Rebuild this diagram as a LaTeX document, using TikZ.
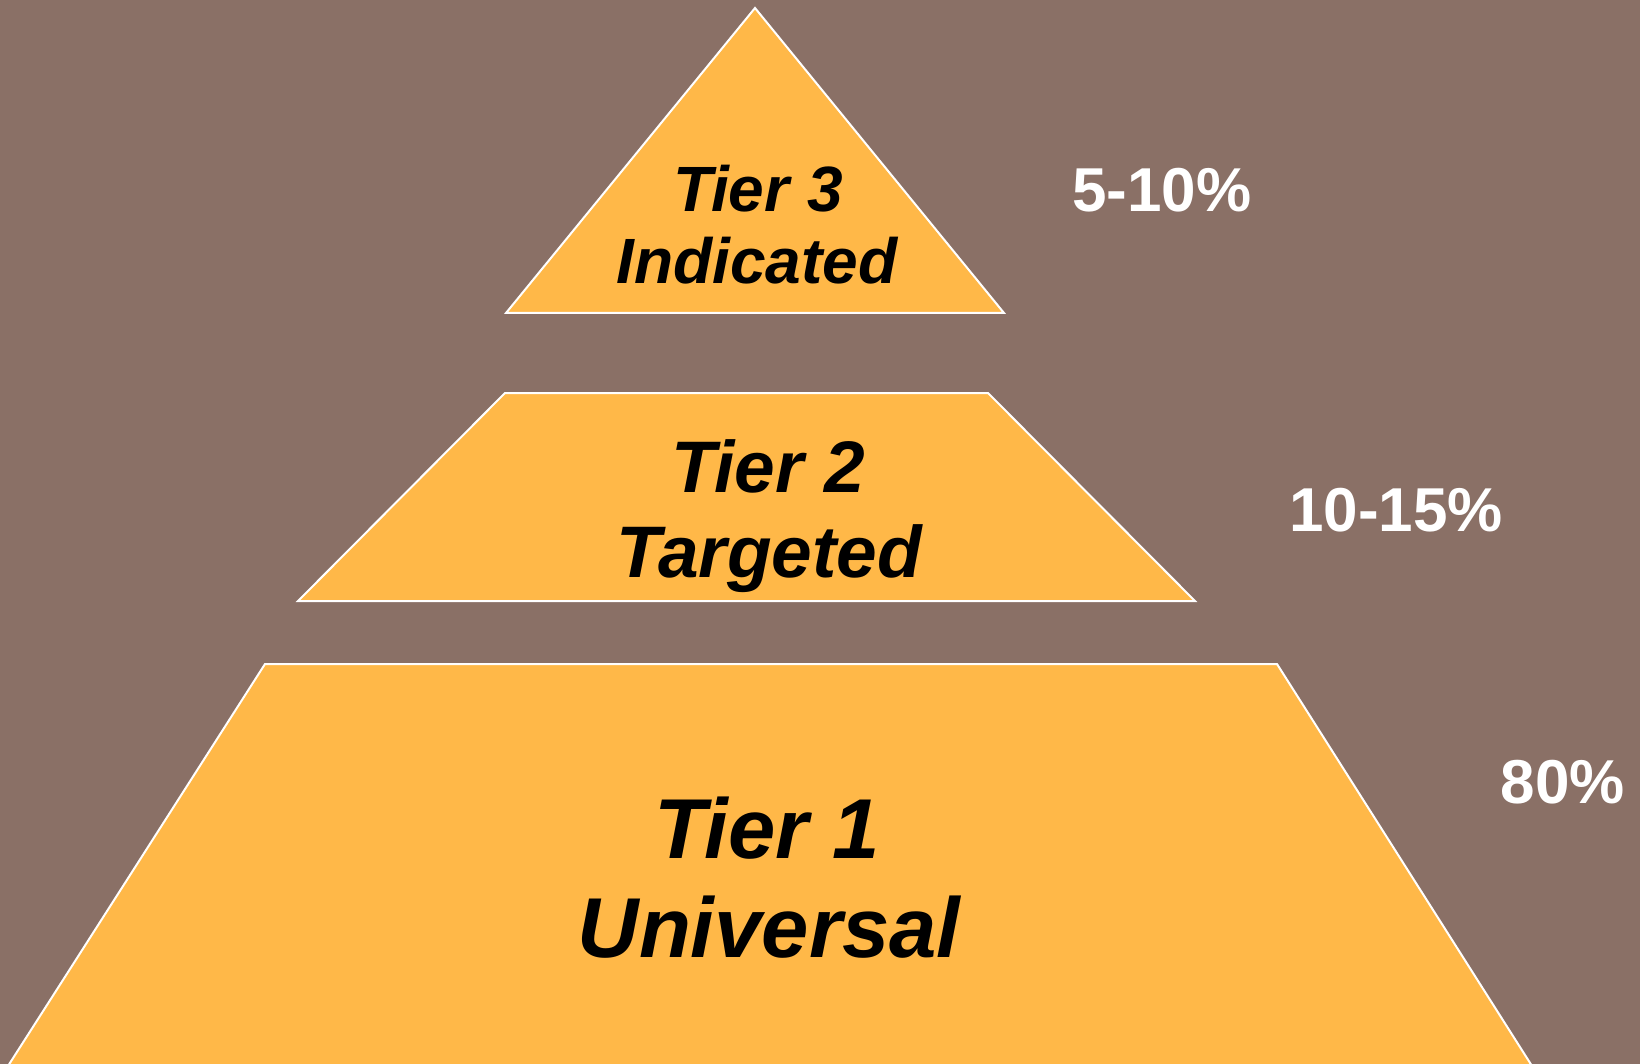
\documentclass[tikz,border=0pt]{standalone}
\usepackage{fontspec}
\setmainfont{Liberation Sans}
\definecolor{bgbrown}{RGB}{138,112,102}
\definecolor{tierfill}{RGB}{255,184,72}
\begin{document}
\begin{tikzpicture}[x=1pt,y=-1pt,
  tier/.style={fill=tierfill,draw=white,line width=2pt,line join=miter},
  tiertext/.style={anchor=base,inner sep=0pt,text=black,font=\bfseries\itshape},
  pct/.style={anchor=base,inner sep=0pt,text=white,font=\bfseries\fontsize{62}{70}\selectfont}]
\fill[bgbrown] (0,0) rectangle (1640,1064);
\useasboundingbox (0,0) rectangle (1640,1064);
% Tier 3
\draw[tier] (755,8) -- (1004,313) -- (506,313) -- cycle;
% Tier 2
\draw[tier] (505,393) -- (988,393) -- (1195,601) -- (298,601) -- cycle;
% Tier 1
\draw[tier] (265,664) -- (1277,664) -- (1532,1066) -- (8,1066) -- cycle;
% texts
\node[tiertext,font=\bfseries\itshape\fontsize{64}{72}\selectfont] (t3a) at (758,212) {Tier 3};
\node[tiertext,font=\bfseries\itshape\fontsize{64}{72}\selectfont] (t3b) at (757,284) {Indicated};
\node[tiertext,font=\bfseries\itshape\fontsize{73}{82}\selectfont] (t2a) at (768,492) {Tier 2};
\node[tiertext,font=\bfseries\itshape\fontsize{73}{82}\selectfont] (t2b) at (769,577) {Targeted};
\node[tiertext,font=\bfseries\itshape\fontsize{85}{96}\selectfont] (t1a) at (767,858) {Tier 1};
\node[tiertext,font=\bfseries\itshape\fontsize{85}{96}\selectfont] (t1b) at (769,957) {Universal};
\node[pct] (p3) at (1162,212) {5-10\%};
\node[pct] (p2) at (1396,531) {10-15\%};
\node[pct] (p1) at (1563,803) {80\%};
\end{tikzpicture}
\end{document}
